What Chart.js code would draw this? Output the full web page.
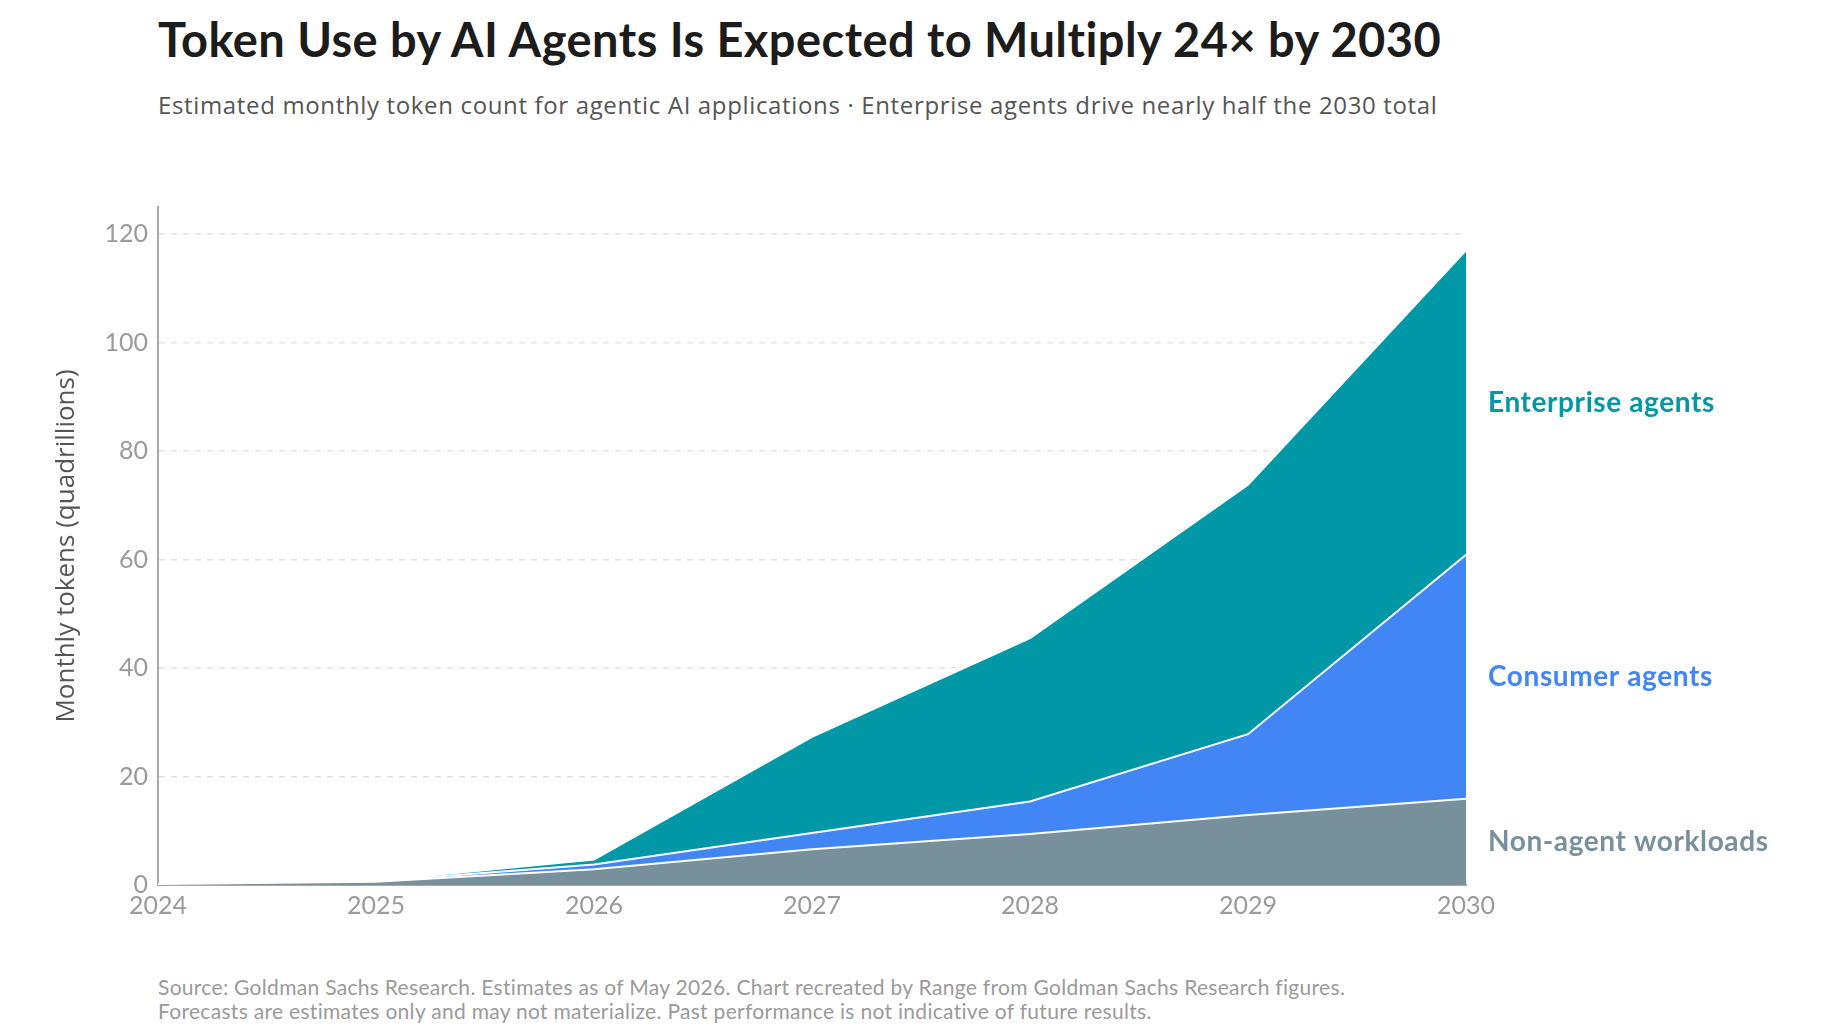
<!DOCTYPE html>
<html lang="en">
<head>
<meta charset="UTF-8">
<title>Token Use by AI Agents</title>
<script src="https://cdn.jsdelivr.net/npm/chart.js"></script>
<style>
body{margin:0;background:#fff;font-family:Lato,'Noto Sans',sans-serif;width:1844px;height:1036px;position:relative;overflow:hidden;}
h1{position:absolute;left:158px;top:11px;margin:0;font-size:47px;line-height:1.2;font-weight:700;color:#1c1c1c;letter-spacing:0.45px;white-space:nowrap;}
.sub{position:absolute;left:158px;top:91px;font-family:'Open Sans',Lato,sans-serif;font-size:24px;line-height:1.2;color:#555;letter-spacing:0.65px;white-space:nowrap;}
.wrap{position:absolute;left:0;top:180px;width:1844px;height:780px;}
.note{position:absolute;left:158px;top:975px;font-size:21px;line-height:24px;color:#9a9a9a;letter-spacing:0.3px;white-space:nowrap;}
</style>
</head>
<body>
<h1>Token Use by AI Agents Is Expected to Multiply 24× by 2030</h1>
<div class="sub">Estimated monthly token count for agentic AI applications · Enterprise agents drive nearly half the 2030 total</div>
<div class="wrap"><canvas id="chart"></canvas></div>
<div class="note">Source: Goldman Sachs Research. Estimates as of May 2026. Chart recreated by Range from Goldman Sachs Research figures.<br>Forecasts are estimates only and may not materialize. Past performance is not indicative of future results.</div>
<script>
// monthly tokens, quadrillions
const years = ['2024','2025','2026','2027','2028','2029','2030'];
const nonAgent = [0.2, 0.6, 2.9, 6.6, 9.4, 12.9, 15.9];
const consumer = [0.0, 0.1, 0.9, 3.0, 6.0, 14.9, 45.0];
const enterprise = [0.0, 0.1, 0.9, 17.7, 30.1, 46.0, 56.1];
const yTicks = [0, 20, 40, 60, 80, 100, 120];
const seriesNames = ['Non-agent workloads', 'Consumer agents', 'Enterprise agents'];
const seriesColors = ['#78909c', '#4285f4', '#0097a7'];

// series names at the right, centred on each band at the last year
const endLabels = {
  id: 'endLabels',
  afterDraw(chart) {
    const {ctx, chartArea, scales: {y}} = chart;
    const last = years.length - 1;
    let base = 0;
    ctx.save();
    ctx.font = '700 28px Lato, sans-serif';
    ctx.letterSpacing = '0.6px';
    ctx.textBaseline = 'middle';
    chart.data.datasets.forEach((ds, i) => {
      const top = base + ds.data[last];
      ctx.fillStyle = seriesColors[i];
      ctx.fillText(ds.label, chartArea.right + 22, y.getPixelForValue((base + top) / 2));
      base = top;
    });
    ctx.restore();
  }
};

const series = [nonAgent, consumer, enterprise];
new Chart(document.getElementById('chart'), {
  type: 'line',
  data: {
    labels: years,
    datasets: series.map((d, i) => ({
      label: seriesNames[i],
      data: d,
      backgroundColor: seriesColors[i],
      borderColor: '#ffffff',
      borderWidth: 2,
      pointRadius: 0,
      tension: 0,
      fill: i === 0 ? 'origin' : '-1'
    }))
  },
  options: {
    responsive: true,
    maintainAspectRatio: false,
    animation: false,
    layout: {padding: {left: 40, top: 27, right: 378, bottom: 15}},
    plugins: {legend: {display: false}, tooltip: {enabled: false}},
    scales: {
      x: {
        z: 1,
        grid: {display: false, drawTicks: false},
        border: {display: true, color: '#a8a8a8', width: 2},
        ticks: {color: '#9a9a9a', font: {family: 'Lato', size: 25}, padding: 6, maxRotation: 0},
        afterFit(s) { s.height = 60; }
      },
      y: {
        stacked: true,
        min: 0,
        max: 125,
        grid: {color: '#e3e3e3', lineWidth: 1.5, drawTicks: false},
        border: {display: true, color: '#a8a8a8', width: 2, dash: [6, 6]},
        ticks: {color: '#9a9a9a', font: {family: 'Lato', size: 25}, padding: 10},
        afterBuildTicks(s) { s.ticks = yTicks.map(v => ({value: v})); },
        title: {display: true, text: 'Monthly tokens (quadrillions)', color: '#555', font: {family: 'Open Sans', size: 26}, padding: {top: 11}},
        afterFit(s) { s.width = 118; }
      }
    }
  },
  plugins: [endLabels]
});
</script>
</body>
</html>
